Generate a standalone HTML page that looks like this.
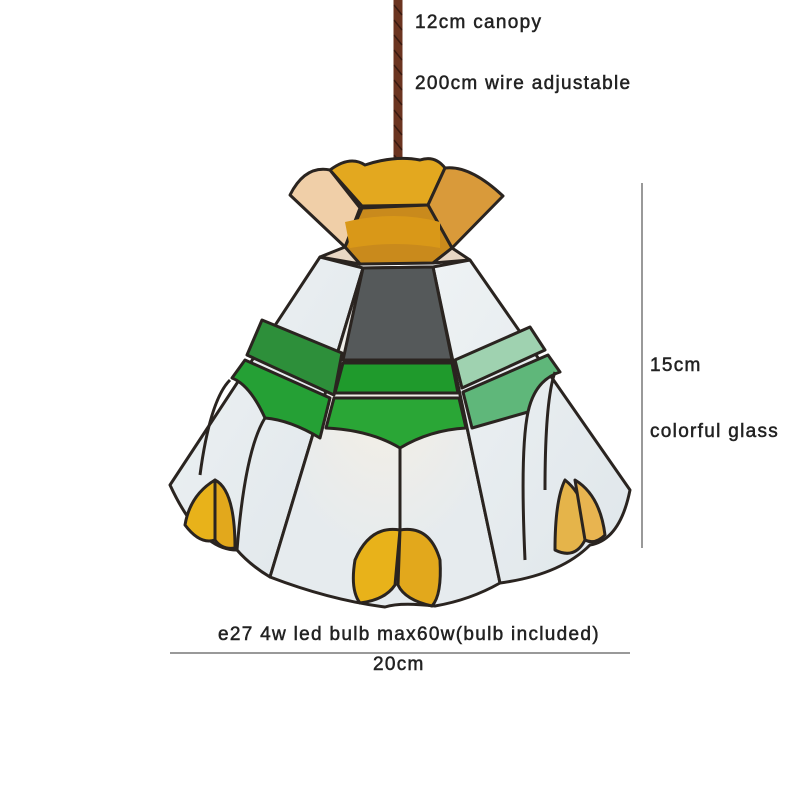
<!DOCTYPE html>
<html><head><meta charset="utf-8"><style>
html,body{margin:0;padding:0;background:#fff;}
.t{position:absolute;font-family:"Liberation Sans",sans-serif;font-size:19px;color:#222;letter-spacing:1.3px;-webkit-text-stroke:0.5px #222;white-space:nowrap;}
</style></head><body>
<div style="position:relative;width:800px;height:800px;overflow:hidden;">
<svg width="800" height="800" style="position:absolute;left:0;top:0">
<defs>
<linearGradient id="gl" x1="0" y1="0" x2="1" y2="1"><stop offset="0" stop-color="#eef2f4"/><stop offset="1" stop-color="#dfe6ea"/></linearGradient>
<radialGradient id="glow" cx="0.5" cy="0.35" r="0.5"><stop offset="0" stop-color="#f5efe4"/><stop offset="1" stop-color="#e6ebee"/></radialGradient>
</defs>
<path d="M398 0 L398 212" stroke="#6b3420" stroke-width="9"/>
<path d="M394 5 l8 10 M394 20 l8 10 M394 35 l8 10 M394 50 l8 10 M394 65 l8 10 M394 80 l8 10 M394 95 l8 10 M394 110 l8 10 M394 125 l8 10 M394 140 l8 10 M394 155 l8 10 M394 170 l8 10 M394 185 l8 10" stroke="#3a1a10" stroke-width="1.5"/>
<g stroke="#2a2420" stroke-width="3" stroke-linejoin="round">
<path d="M320 257 L363 268 L270 577 Q250 565 237 550 Q200 550 170 485 Z" fill="url(#gl)"/>
<path d="M363 268 L433 267 L500 583 Q470 600 435 606 Q400 602 385 607 Q330 600 270 577 Z" fill="url(#glow)"/>
<path d="M433 267 L470 260 L630 490 Q620 540 590 545 Q560 575 500 583 Z" fill="url(#gl)"/>
<path d="M363 268 L433 267 L452 360 L343 360 Z" fill="#55595a"/>
<path d="M343 363 L452 363 L458 393 L335 393 Z" fill="#1f9a2c"/>
<path d="M334 398 L459 398 L466 428 Q430 430 400 448 Q370 430 326 428 Z" fill="#2aa636"/>
<path d="M262 320 L342 353 L334 395 L247 355 Z" fill="#2d8f3a"/>
<path d="M245 360 L330 398 L320 438 Q290 420 265 418 Q250 385 232 378 Z" fill="#25a035"/>
<path d="M455 360 L530 327 L545 350 L462 388 Z" fill="#9fd2b0"/>
<path d="M463 392 L548 355 L560 372 Q535 380 528 412 L472 428 Z" fill="#5fb77a"/>
<path d="M400 448 L400 530" fill="none"/>
<path d="M230 380 Q210 400 200 475" fill="none"/>
<path d="M265 418 Q245 450 237 550" fill="none"/>
<path d="M555 372 Q545 400 545 490" fill="none"/>
<path d="M528 412 Q520 450 525 560" fill="none"/>
<path d="M400 530 Q370 525 355 560 Q350 590 360 603 Q385 600 395 585 Z" fill="#e8b21a"/>
<path d="M400 530 Q430 525 440 560 Q442 595 432 606 Q405 600 398 585 Z" fill="#e2a81c"/>
<path d="M215 480 Q190 495 185 525 Q200 545 215 540 Z" fill="#e8b21a"/>
<path d="M215 480 Q235 490 235 548 Q222 550 215 540 Z" fill="#e2a81c"/>
<path d="M565 480 Q555 500 555 550 Q575 560 585 540 Q590 500 565 480 Z" fill="#e5b44a"/>
<path d="M575 480 Q600 495 605 535 Q595 545 585 540 Z" fill="#e8b450"/>
<path d="M290 195 Q305 165 330 170 L360 208 L345 247 Z" fill="#f0cfa8"/>
<path d="M330 170 Q350 155 365 165 Q395 155 420 160 Q435 155 445 168 L428 205 L362 206 Z" fill="#e3a81f"/>
<path d="M445 168 Q470 165 503 196 L452 248 L428 205 Z" fill="#d99a3a"/>
<path d="M345 247 L362 208 L428 205 L452 248 L433 263 L360 264 Z" fill="#c98a1c"/>
<path d="M345 222 Q395 210 440 222 L440 248 Q395 240 350 248 Z" fill="#d99818" stroke="none"/>
<path d="M320 257 L345 247 L360 264 Z" fill="#e8d7c4"/>
<path d="M470 260 L452 248 L433 263 Z" fill="#e8d7c4"/>
</g>
<line x1="642" y1="183" x2="642" y2="548" stroke="#333" stroke-width="1"/>
<line x1="170" y1="653" x2="630" y2="653" stroke="#333" stroke-width="1"/>
</svg>
<div class="t" style="left:415px;top:12px;">12cm canopy</div>
<div class="t" style="left:415px;top:73px;">200cm wire adjustable</div>
<div class="t" style="left:650px;top:355px;">15cm</div>
<div class="t" style="left:650px;top:421px;">colorful glass</div>
<div class="t" style="left:218px;top:624px;">e27 4w led bulb max60w(bulb included)</div>
<div class="t" style="left:373px;top:654px;">20cm</div>
</div>
</body></html>
